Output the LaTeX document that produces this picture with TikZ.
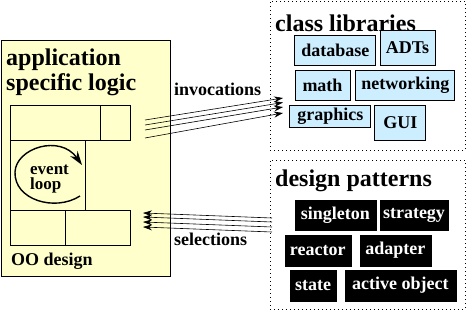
\documentclass[tikz,border=0pt]{standalone}
\usepackage{fontspec}
\setmainfont{Liberation Serif}
\usetikzlibrary{arrows.meta,positioning}
\definecolor{appyellow}{RGB}{255,255,204}
\definecolor{libblue}{RGB}{204,238,255}
\tikzset{
  appbox/.style={
    rectangle,
    draw=black,
    line width=0.8pt,
    fill=appyellow,
    inner sep=0pt
  },
  groupbox/.style={
    rectangle,
    draw=black,
    line width=1pt,
    dash pattern=on 1pt off 3pt,
    inner sep=0pt
  },
  libbox/.style={
    rectangle,
    draw=black,
    line width=0.8pt,
    fill=libblue,
    inner sep=0pt,
    font=\fontsize{18}{20}\selectfont\bfseries
  },
  patbox/.style={
    rectangle,
    draw=black,
    fill=black,
    text=white,
    inner sep=0pt,
    font=\fontsize{18}{20}\selectfont\bfseries
  },
  heading/.style={
    anchor=base west,
    align=left,
    inner sep=0pt,
    font=\fontsize{24}{25}\selectfont\bfseries
  },
  edgetext/.style={
    anchor=base west,
    align=left,
    inner sep=0pt,
    font=\fontsize{18}{14}\selectfont\bfseries
  },
  cell/.style={draw=black, line width=0.8pt},
  flow/.style={-{Stealth[length=9pt,width=6pt]}, line width=0.6pt, black},
  loopflow/.style={-{Stealth[length=14pt,width=9pt]}, line width=1.4pt, black}
}

\begin{document}
\begin{tikzpicture}[x=1pt,y=-1pt]
\useasboundingbox (0,0) rectangle (466,311);

% application side (base of a two-line text is its last line)
\node[appbox, minimum width=169, minimum height=236] (app) at (85.5,158) {};
\node[heading] (apptitle) at (6,90) {application\\specific logic};
\draw[cell] (10.7,105.7) rectangle (130,140);
\draw[cell] (100.7,105.7) -- (100.7,140);
\draw[cell] (10.7,140) rectangle (85.7,210);
\draw[cell] (10.7,210) rectangle (130,245);
\draw[cell] (65.7,210) -- (65.7,245);
\node[edgetext, font=\fontsize{17}{15.5}\selectfont\bfseries] (evloop) at (30,189.5) {event\\loop};
\draw[loopflow] (80,196) .. controls (55,212) and (14,200) .. (15,172)
  .. controls (16,148) and (60,134) .. (82,165);
\node[edgetext] (oodesign) at (11,265) {OO design};

% class libraries
\node[groupbox, minimum width=195, minimum height=149] (classlib) at (367.5,75.5) {};
\node[heading] (libtitle) at (275,31) {class libraries};
\node[libbox, minimum width=81, minimum height=30] (database) at (335.3,50) {database};
\node[libbox, minimum width=55, minimum height=35] (adts) at (407.5,47.5) {ADTs};
\node[libbox, minimum width=55, minimum height=30] (math) at (322.5,85) {math};
\node[libbox, minimum width=99, minimum height=30] (networking) at (405.3,85) {networking};
\node[libbox, minimum width=81, minimum height=22] (graphics) at (330.3,116) {graphics};
\node[libbox, minimum width=51, minimum height=35] (gui) at (400.3,122.5) {GUI};

% design patterns
\node[groupbox, minimum width=195, minimum height=149] (patterns) at (367.5,234.5) {};
\node[heading] (pattitle) at (275,186) {design patterns};
\node[patbox, minimum width=81, minimum height=30] (singleton) at (335.3,215) {singleton};
\node[patbox, minimum width=68, minimum height=30] (strategy) at (414,215) {strategy};
\node[patbox, minimum width=66, minimum height=31] (reactor) at (317.8,250.3) {reactor};
\node[patbox, minimum width=71, minimum height=31] (adapter) at (395.3,250.3) {adapter};
\node[patbox, minimum width=46, minimum height=31] (state) at (313,285.3) {state};
\node[patbox, minimum width=111, minimum height=31] (activeobj) at (400.3,285.3) {active object};

% invocations and selections
\node[edgetext] (invlabel) at (174,95) {invocations};
\node[edgetext] (sellabel) at (174,245) {selections};
\foreach \i/\ya/\yb in {1/120/98, 2/125/102.5, 3/130/107, 4/138/113} {
  \coordinate (invfrom\i) at (145,\ya);
  \coordinate (invto\i) at (283,\yb);
  \draw[flow] (invfrom\i) -- (invto\i);
}
\foreach \i/\ya/\yb in {1/218/213, 2/222/217, 3/227/222, 4/232/227} {
  \coordinate (selfrom\i) at (272,\ya);
  \coordinate (selto\i) at (143,\yb);
  \draw[flow] (selfrom\i) -- (selto\i);
}
\end{tikzpicture}
\end{document}
